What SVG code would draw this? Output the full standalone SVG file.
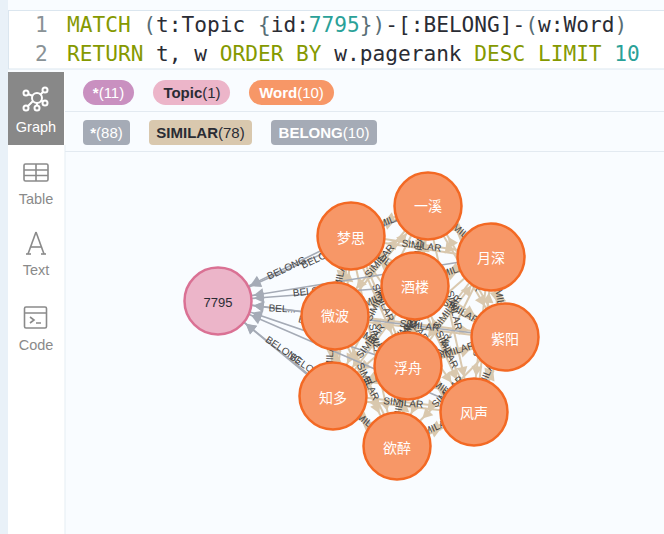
<svg xmlns="http://www.w3.org/2000/svg" width="664" height="534" viewBox="0 0 664 534">
<style>
.ui{font-family:"Liberation Sans",Arial,sans-serif}
.code{font-family:"DejaVu Sans Mono","Liberation Mono",monospace;font-size:21.15px;fill:#2a2c34}
.k{fill:#859900}.n{fill:#2aa198}.p{fill:#586e75}.ln{fill:#8a9296}
.side{font-size:14.5px;fill:#8a8a8a;text-anchor:middle}
.pill{font-size:15px;text-anchor:middle}
.w{fill:#fff}.d{fill:#2a2c34}
.b{font-weight:700}
.ic{fill:none;stroke:#8a8a8a;stroke-width:1.6}
.gi{fill:none;stroke:#fff;stroke-width:2}
.sim path{stroke:#d9c8ae;stroke-width:2;fill:none;marker-end:url(#sa)}
.bel path{stroke:#a5abb6;stroke-width:1.6;fill:none;marker-end:url(#ba)}
.l{font-family:"Liberation Sans",Arial,sans-serif;font-size:10px;fill:#444;text-anchor:middle}
.wn circle{fill:#f79767;stroke:#f36924;stroke-width:2.5}
.wn text{font-family:"Liberation Sans","Noto Sans CJK SC",sans-serif;font-size:14px;fill:#fff;text-anchor:middle}
</style>
<defs>
<marker id="sa" markerUnits="userSpaceOnUse" markerWidth="1" markerHeight="1" refX="0" refY="0" orient="auto" overflow="visible"><path d="M-36 0L-46 -5.5L-46 5.5Z" fill="#d9c8ae"/></marker>
<marker id="ba" markerUnits="userSpaceOnUse" markerWidth="1" markerHeight="1" refX="0" refY="0" orient="auto" overflow="visible"><path d="M-36 0L-46 -5.5L-46 5.5Z" fill="#a5abb6"/></marker>
</defs>
<rect width="664" height="534" fill="#f9fcff"/>
<rect width="8" height="534" fill="#e9f1f8"/>
<rect x="8" y="72" width="57" height="462" fill="#fff"/>
<rect x="64.500" y="145" width="1" height="389" fill="#e6edf4"/>
<rect x="8.500" y="10.500" width="660" height="58.500" fill="#fff" stroke="#dbe6ef"/>
<text class="code ln" x="35" y="32">1</text>
<text class="code ln" x="35" y="61">2</text>
<text class="code" x="67" y="32"><tspan class="k">MATCH</tspan><tspan class="p"> (</tspan>t:Topic <tspan class="p">{</tspan>id:<tspan class="n">7795</tspan><tspan class="p">})</tspan>-[:BELONG]-<tspan class="p">(</tspan>w:Word<tspan class="p">)</tspan></text>
<text class="code" x="67" y="61"><tspan class="k">RETURN</tspan> t, w <tspan class="k">ORDER BY</tspan> w.pagerank <tspan class="k">DESC LIMIT</tspan> <tspan class="n">10</tspan></text>
<rect x="8" y="72" width="56" height="73" fill="#888"/>
<g class="gi"><circle cx="37" cy="98" r="5"/><circle cx="26" cy="93" r="2.500"/><circle cx="45" cy="90" r="2.500"/><circle cx="26" cy="108" r="2.500"/><circle cx="37" cy="108" r="2.500"/><circle cx="45" cy="103" r="2.500"/><path d="M28 94L33 96M43 92L40 95M28 106L33 101M37 103V106M43 102L41 100"/></g>
<text class="ui side w" x="36" y="132" style="fill:#fff">Graph</text>
<g class="ic"><rect x="24" y="164" width="24" height="17" rx="1.500"/><path d="M24 170H48M24 175.500H48M36 164V181"/></g>
<text class="ui side" x="36" y="204">Table</text>
<g class="ic"><line x1="36" y1="232" x2="28" y2="254"/><line x1="36" y1="232" x2="44" y2="254"/><line x1="30" y1="247" x2="42" y2="247"/><line x1="26" y1="254" x2="31" y2="254"/><line x1="41" y1="254" x2="46" y2="254"/></g>
<text class="ui side" x="36" y="275">Text</text>
<g class="ic"><rect x="24.500" y="307" width="22" height="21" rx="1.500"/><path d="M24.500 313H46.500M30 317L34 320L30 323M36 323H41"/></g>
<text class="ui side" x="36" y="350">Code</text>
<rect x="65" y="111" width="599" height="1" fill="#e3eaf1"/>
<rect x="65" y="151" width="599" height="1" fill="#e3eaf1"/>
<rect x="83" y="80" width="51" height="25" rx="12.500" fill="#c990c0"/>
<text class="ui pill w" x="108.500" y="98"><tspan class="b">*</tspan>(11)</text>
<rect x="153" y="80" width="77" height="25" rx="12.500" fill="#ecb5c9"/>
<text class="ui pill d" x="192" y="98"><tspan class="b">Topic</tspan>(1)</text>
<rect x="249" y="80" width="85" height="25" rx="12.500" fill="#f79767"/>
<text class="ui pill w" x="291.500" y="98"><tspan class="b">Word</tspan>(10)</text>
<rect x="83" y="120" width="47" height="25" rx="4" fill="#a5abb6"/>
<text class="ui pill w" x="106.500" y="138"><tspan class="b">*</tspan>(88)</text>
<rect x="149" y="120" width="103" height="25" rx="4" fill="#d9c8ae"/>
<text class="ui pill d" x="200.500" y="138"><tspan class="b">SIMILAR</tspan>(78)</text>
<rect x="271" y="120" width="106" height="25" rx="4" fill="#a5abb6"/>
<text class="ui pill w" x="324" y="138"><tspan class="b">BELONG</tspan>(10)</text>
<g id="connectors">
<g class="sim" transform="translate(0,-2)">
<path d="M428 206L351 236"/><path d="M428 206L491 257"/><path d="M351 236L491 257"/><path d="M351 236L415 286"/><path d="M351 236L505 337"/><path d="M491 257L415 286"/><path d="M491 257L335 316"/><path d="M491 257L333 396"/><path d="M415 286L335 316"/><path d="M415 286L505 337"/><path d="M335 316L505 337"/><path d="M335 316L408 366"/><path d="M335 316L474 412"/><path d="M505 337L408 366"/><path d="M505 337L333 396"/><path d="M505 337L397 446"/><path d="M408 366L333 396"/><path d="M408 366L474 412"/><path d="M333 396L474 412"/><path d="M333 396L397 446"/><path d="M474 412L397 446"/>
</g>
<g class="sim" transform="translate(0,2)">
<path d="M351 236L428 206"/><path d="M491 257L428 206"/><path d="M491 257L351 236"/><path d="M415 286L351 236"/><path d="M415 286L491 257"/><path d="M335 316L415 286"/><path d="M505 337L415 286"/><path d="M505 337L335 316"/><path d="M408 366L335 316"/><path d="M408 366L505 337"/><path d="M333 396L408 366"/><path d="M474 412L408 366"/><path d="M474 412L333 396"/><path d="M397 446L333 396"/><path d="M397 446L474 412"/>
</g>
<g class="sim" transform="translate(-2,0)">
<path d="M428 206L415 286"/><path d="M428 206L335 316"/><path d="M428 206L505 337"/><path d="M428 206L408 366"/><path d="M428 206L333 396"/><path d="M428 206L474 412"/><path d="M428 206L397 446"/><path d="M351 236L335 316"/><path d="M351 236L408 366"/><path d="M351 236L333 396"/><path d="M351 236L474 412"/><path d="M351 236L397 446"/><path d="M491 257L505 337"/><path d="M491 257L408 366"/><path d="M491 257L474 412"/><path d="M491 257L397 446"/><path d="M415 286L408 366"/><path d="M415 286L333 396"/><path d="M415 286L474 412"/><path d="M415 286L397 446"/><path d="M335 316L333 396"/><path d="M335 316L397 446"/><path d="M505 337L474 412"/><path d="M408 366L397 446"/>
</g>
<g class="sim" transform="translate(2,0)">
<path d="M415 286L428 206"/><path d="M335 316L428 206"/><path d="M505 337L428 206"/><path d="M408 366L428 206"/><path d="M335 316L351 236"/><path d="M408 366L351 236"/><path d="M333 396L351 236"/><path d="M505 337L491 257"/><path d="M408 366L491 257"/><path d="M474 412L491 257"/><path d="M408 366L415 286"/><path d="M333 396L415 286"/><path d="M474 412L415 286"/><path d="M397 446L415 286"/><path d="M333 396L335 316"/><path d="M397 446L335 316"/><path d="M474 412L505 337"/><path d="M397 446L408 366"/>
</g>
<g class="bel">
<path d="M428 206L218 301"/><path d="M351 236L218 301"/><path d="M491 257L218 301"/><path d="M415 286L218 301"/><path d="M335 316L218 301"/><path d="M505 337L218 301"/><path d="M408 366L218 301"/><path d="M333 396L218 301"/><path d="M474 412L218 301"/><path d="M397 446L218 301"/>
</g>
<g id="edge-labels">
<text class="l" transform="translate(288,271) rotate(-25)">BELONG</text>
<text class="l" transform="translate(322,260) rotate(-25)">BELONG</text>
<text class="l" transform="translate(314,294) rotate(-7)">BELONG</text>
<text class="l" transform="translate(282,312) rotate(3)">BEL...</text>
<text class="l" transform="translate(318,327) rotate(14)">BELONG</text>
<text class="l" transform="translate(282,353) rotate(34)">BELONG</text>
<text class="l" transform="translate(306,370) rotate(34)">BELONG</text>
<text class="l" transform="translate(390,224) rotate(-21)">SIMILAR</text>
<text class="l" transform="translate(460,235) rotate(39)">SIMILAR</text>
<text class="l" transform="translate(422,249) rotate(-81)">SIMILAR</text>
<text class="l" transform="translate(382,263) rotate(-50)">SIMILAR</text>
<text class="l" transform="translate(466,275) rotate(60)">SIMILAR</text>
<text class="l" transform="translate(418,289) rotate(-83)">SIMILAR</text>
<text class="l" transform="translate(380,304) rotate(-63)">SIMILAR</text>
<text class="l" transform="translate(451,311) rotate(77)">SIMILAR</text>
<text class="l" transform="translate(412,329) rotate(-82)">SIMILAR</text>
<text class="l" transform="translate(421,249) rotate(8)">SIMILAR</text>
<text class="l" transform="translate(383,263) rotate(37)">SIMILAR</text>
<text class="l" transform="translate(343,278) rotate(-79)">SIMILAR</text>
<text class="l" transform="translate(427,289) rotate(33)">SIMILAR</text>
<text class="l" transform="translate(380,304) rotate(66)">SIMILAR</text>
<text class="l" transform="translate(341,319) rotate(-83)">SIMILAR</text>
<text class="l" transform="translate(412,326) rotate(55)">SIMILAR</text>
<text class="l" transform="translate(373,344) rotate(78)">SIMILAR</text>
<text class="l" transform="translate(453,274) rotate(-20)">SIMILAR</text>
<text class="l" transform="translate(413,289) rotate(-20)">SIMILAR</text>
<text class="l" transform="translate(497,300) rotate(81)">SIMILAR</text>
<text class="l" transform="translate(450,314) rotate(-53)">SIMILAR</text>
<text class="l" transform="translate(411,329) rotate(-41)">SIMILAR</text>
<text class="l" transform="translate(482,337) rotate(-84)">SIMILAR</text>
<text class="l" transform="translate(443,354) rotate(-63)">SIMILAR</text>
<text class="l" transform="translate(375,303) rotate(-21)">SIMILAR</text>
<text class="l" transform="translate(459,314) rotate(30)">SIMILAR</text>
<text class="l" transform="translate(411,328) rotate(-85)">SIMILAR</text>
<text class="l" transform="translate(373,343) rotate(-53)">SIMILAR</text>
<text class="l" transform="translate(444,351) rotate(65)">SIMILAR</text>
<text class="l" transform="translate(405,368) rotate(-83)">SIMILAR</text>
<text class="l" transform="translate(419,329) rotate(7)">SIMILAR</text>
<text class="l" transform="translate(371,343) rotate(35)">SIMILAR</text>
<text class="l" transform="translate(333,358) rotate(-88)">SIMILAR</text>
<text class="l" transform="translate(404,366) rotate(35)">SIMILAR</text>
<text class="l" transform="translate(365,383) rotate(65)">SIMILAR</text>
<text class="l" transform="translate(456,354) rotate(-17)">SIMILAR</text>
<text class="l" transform="translate(418,369) rotate(-19)">SIMILAR</text>
<text class="l" transform="translate(489,377) rotate(-68)">SIMILAR</text>
<text class="l" transform="translate(450,394) rotate(-45)">SIMILAR</text>
<text class="l" transform="translate(370,384) rotate(-22)">SIMILAR</text>
<text class="l" transform="translate(441,391) rotate(34)">SIMILAR</text>
<text class="l" transform="translate(402,409) rotate(-81)">SIMILAR</text>
<text class="l" transform="translate(403,406) rotate(6)">SIMILAR</text>
<text class="l" transform="translate(364,424) rotate(38)">SIMILAR</text>
<text class="l" transform="translate(435,431) rotate(-24)">SIMILAR</text>
</g>
</g>
<g id="node-7795"><circle cx="218" cy="301" r="33.500" fill="#ecb5c9" stroke="#da7194" stroke-width="2.500"/><text x="218" y="307" text-anchor="middle" font-family="Liberation Sans,sans-serif" font-size="13" fill="#2a2c34">7795</text></g>
<g id="node-yixi" class="wn"><circle cx="428" cy="206" r="33.500"/><text x="428" y="211">一溪</text></g>
<g id="node-mengsi" class="wn"><circle cx="351" cy="236" r="33.500"/><text x="351" y="243">梦思</text></g>
<g id="node-yueshen" class="wn"><circle cx="491" cy="257" r="33.500"/><text x="491" y="263">月深</text></g>
<g id="node-jiulou" class="wn"><circle cx="415" cy="286" r="33.500"/><text x="415" y="292">酒楼</text></g>
<g id="node-weibo" class="wn"><circle cx="335" cy="316" r="33.500"/><text x="335" y="321">微波</text></g>
<g id="node-ziyang" class="wn"><circle cx="505" cy="337" r="33.500"/><text x="505" y="344">紫阳</text></g>
<g id="node-fuzhou" class="wn"><circle cx="408" cy="366" r="33.500"/><text x="408" y="373">浮舟</text></g>
<g id="node-zhiduo" class="wn"><circle cx="333" cy="396" r="33.500"/><text x="333" y="403">知多</text></g>
<g id="node-fengsheng" class="wn"><circle cx="474" cy="412" r="33.500"/><text x="474" y="418">风声</text></g>
<g id="node-yuzui" class="wn"><circle cx="397" cy="446" r="33.500"/><text x="397" y="453">欲醉</text></g>
</svg>
